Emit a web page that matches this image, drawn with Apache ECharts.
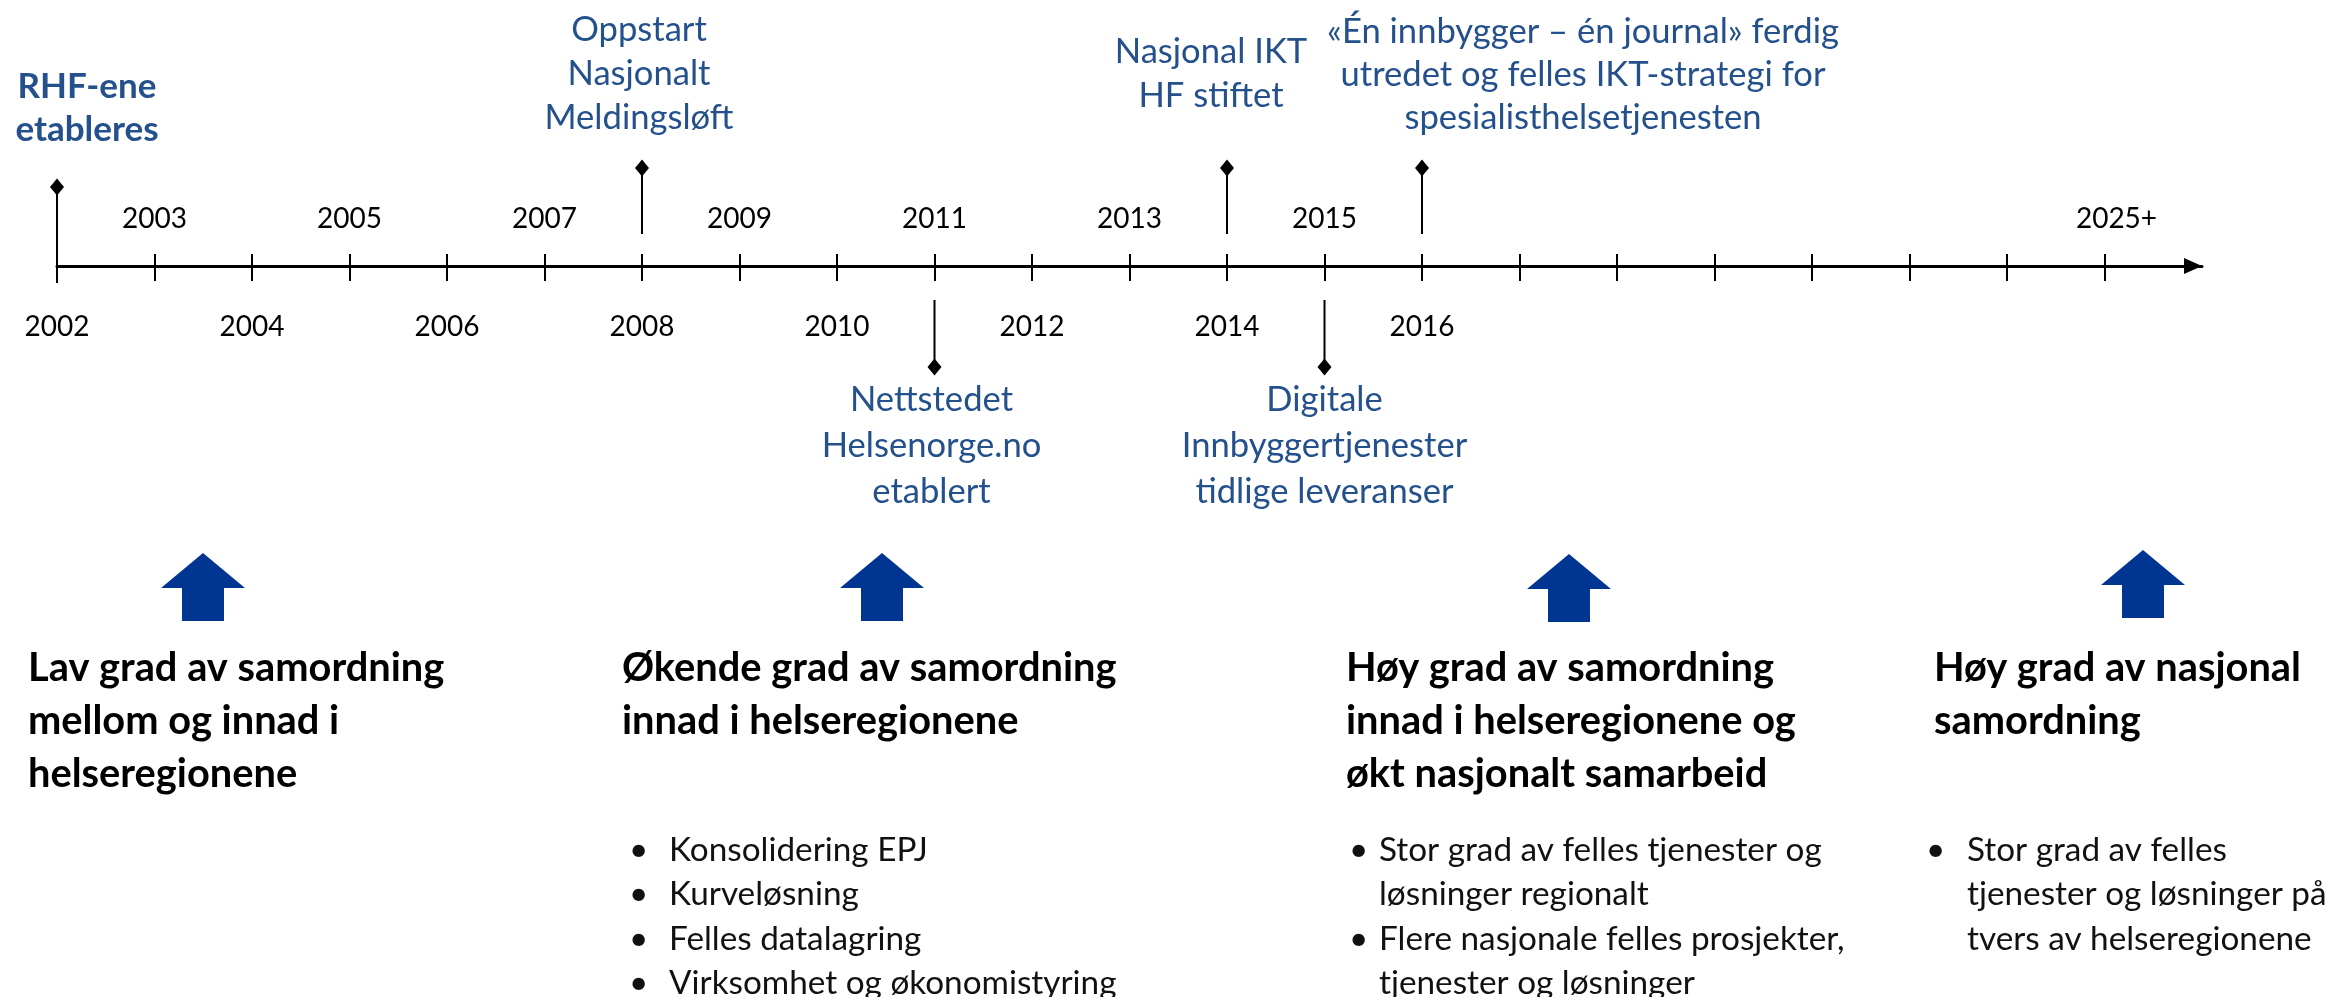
<!DOCTYPE html>
<html>
<head>
<meta charset="utf-8">
<script src="https://cdn.jsdelivr.net/npm/echarts@6/dist/echarts.min.js"></script>
<style>html,body{margin:0;padding:0;background:#fff}#chart{width:2347px;height:997px}</style>
</head>
<body>
<div id="chart"></div>
<script>
// ---------- data ----------
const axisMin = 2002;
const axisMax = 2024;
const tickYears = [2002,2003,2004,2005,2006,2007,2008,2009,2010,2011,2012,2013,2014,2015,2016,2017,2018,2019,2020,2021,2022,2023];
const labelYearsBelow = [2002,2004,2006,2008,2010,2012,2014,2016];
const tickLabelsBelow = ['2002','2004','2006','2008','2010','2012','2014','2016'];
const labelYearsAbove = [2003,2005,2007,2009,2011,2013,2015,2023];
const tickLabelsAbove = ['2003','2005','2007','2009','2011','2013','2015','2025+'];

const eventYears = [2002, 2008, 2011, 2014, 2015, 2016];
const eventSides = ['up', 'up', 'down', 'up', 'down', 'up'];
const eventTexts = [
  'RHF-ene\netableres',
  'Oppstart\nNasjonalt\nMeldingsløft',
  'Nettstedet\nHelsenorge.no\netablert',
  'Nasjonal IKT\nHF stiftet',
  'Digitale\nInnbyggertjenester\ntidlige leveranser',
  '«Én innbygger – én journal» ferdig\nutredet og felles IKT-strategi for\nspesialisthelsetjenesten'
];
const eventBold = [true, false, false, false, false, false];

const phaseTitles = [
  ['Lav grad av samordning', 'mellom og innad i', 'helseregionene'],
  ['Økende grad av samordning', 'innad i helseregionene'],
  ['Høy grad av samordning', 'innad i helseregionene og', 'økt nasjonalt samarbeid'],
  ['Høy grad av nasjonal', 'samordning']
];
const phaseBullets = [
  [],
  [['Konsolidering EPJ'], ['Kurveløsning'], ['Felles datalagring'], ['Virksomhet og økonomistyring']],
  [['Stor grad av felles tjenester og', 'løsninger regionalt'], ['Flere nasjonale felles prosjekter,', 'tjenester og løsninger']],
  [['Stor grad av felles', 'tjenester og løsninger på', 'tvers av helseregionene']]
];

// ---------- layout / style ----------
const FONT = 'Lato, "Open Sans", sans-serif';
const BLUE_TEXT = '#24508c';
const ARROW_BLUE = '#003591';
function fitSize(text, weight, target) {
  const ctx = document.createElement('canvas').getContext('2d');
  ctx.font = weight + ' 100px Lato';
  return Math.round(100 * target / ctx.measureText(text).width * 10) / 10;
}
const yearSize = fitSize('2003', 'normal', 65);
const eventSize = fitSize('Innbyggertjenester', 'normal', 286);
const eventBoldSize = fitSize('etableres', 'bold', 143);
const headSize = fitSize('Økende grad av samordning', 'bold', 494);
const bulletSize = fitSize('Konsolidering EPJ', 'normal', 259);

// stem [start, end(diamond)] relative to axis line, label first-line center offset & x shift
const stemLayout = [[17, -79], [-32, -98], [34, 101], [-32, -98], [34, 101], [-32, -98]];
const labelDY = [-179, -236, 134, -214, 134, -234];
const labelDX = [30, -3, -3, -16, 0, 161];
const labelLH = [43, 44, 46, 44, 46, 43];

const phaseX = [28, 622, 1346, 1934];
const bulletDotX = [0, 629, 1349, 1926];
const bulletTextX = [0, 669, 1379, 1967];
const arrowX = [203, 882, 1569, 2143];
const arrowTop = [553, 553, 554, 550];
const headTop = 642, headLH = 53;
const bulletTop = 828, bulletLH = 44.5;

const chart = echarts.init(document.getElementById('chart'), null, {renderer: 'canvas'});

const graphics = [];
phaseTitles.forEach((lines, i) => {
  const cx = arrowX[i], t = arrowTop[i];
  graphics.push({
    type: 'polygon',
    shape: {points: [[cx, t], [cx + 42, t + 35], [cx + 21, t + 35], [cx + 21, t + 68], [cx - 21, t + 68], [cx - 21, t + 35], [cx - 42, t + 35]]},
    style: {fill: ARROW_BLUE}
  });
  graphics.push({
    type: 'text', x: phaseX[i], y: headTop,
    style: {text: lines.join('\n'), fontFamily: FONT, fontSize: headSize, fontWeight: 'bold', fill: '#000',
      lineHeight: headLH, align: 'left', verticalAlign: 'top'}
  });
  let row = 0;
  phaseBullets[i].forEach(item => {
    graphics.push({
      type: 'text', x: bulletDotX[i], y: bulletTop + row * bulletLH,
      style: {text: '•', fontFamily: FONT, fontSize: bulletSize, fill: '#111', lineHeight: bulletLH, align: 'left', verticalAlign: 'top'}
    });
    graphics.push({
      type: 'text', x: bulletTextX[i], y: bulletTop + row * bulletLH,
      style: {text: item.join('\n'), fontFamily: FONT, fontSize: bulletSize, fill: '#111', lineHeight: bulletLH, align: 'left', verticalAlign: 'top'}
    });
    row += item.length;
  });
});

const baseAxis = {
  type: 'value', min: axisMin, max: axisMax, interval: 1, gridIndex: 0, position: 'bottom',
  splitLine: {show: false}
};

chart.setOption({
  backgroundColor: '#fff',
  animation: false,
  grid: {left: 57, right: 145, top: 0, bottom: 731, containLabel: false},
  xAxis: [
    Object.assign({}, baseAxis, {
      axisLine: {show: true, symbol: ['none', 'triangle'], symbolSize: [16, 18], symbolOffset: [0, -9],
        lineStyle: {color: '#000', width: 3}},
      axisTick: {show: true, inside: false, length: 15, customValues: tickYears, lineStyle: {color: '#000', width: 2}},
      axisLabel: {show: true, customValues: labelYearsBelow, margin: 47, color: '#000', fontFamily: FONT, fontSize: yearSize,
        formatter: v => tickLabelsBelow[labelYearsBelow.indexOf(v)] || ''}
    }),
    Object.assign({}, baseAxis, {
      axisLine: {show: false},
      axisTick: {show: true, inside: true, length: 12, customValues: tickYears, lineStyle: {color: '#000', width: 2}},
      axisLabel: {show: true, inside: true, customValues: labelYearsAbove, margin: 33, color: '#000', fontFamily: FONT, fontSize: yearSize,
        formatter: v => {
          const s = tickLabelsAbove[labelYearsAbove.indexOf(v)] || '';
          return s.indexOf('+') >= 0 ? '{p|' + s + '}' : s;
        },
        rich: {p: {padding: [0, 0, 0, 24], color: '#000', fontFamily: FONT, fontSize: yearSize}}}
    })
  ],
  yAxis: {type: 'value', min: 0, max: 1, show: false},
  graphic: graphics,
  series: [{
    type: 'custom',
    clip: false,
    silent: true,
    data: eventYears.map(y => [y, 0]),
    renderItem: function (params, api) {
      const i = params.dataIndex;
      const p = api.coord([api.value(0), 0]);
      const x = p[0], y0 = p[1];
      const s = stemLayout[i];
      const dy = y0 + s[1];
      return {
        type: 'group',
        children: [
          {type: 'line', shape: {x1: x, y1: y0 + s[0], x2: x, y2: dy}, style: {stroke: '#000', lineWidth: 2}},
          {type: 'polygon', shape: {points: [[x, dy - 8.5], [x + 7, dy], [x, dy + 8.5], [x - 7, dy]]}, style: {fill: '#000'}},
          {type: 'text', style: {
            text: eventTexts[i], x: x + labelDX[i], y: y0 + labelDY[i] - labelLH[i] / 2,
            fill: BLUE_TEXT, fontFamily: FONT, fontSize: eventBold[i] ? eventBoldSize : eventSize,
            fontWeight: eventBold[i] ? 'bold' : 'normal', lineHeight: labelLH[i], align: 'center', verticalAlign: 'top'
          }}
        ]
      };
    }
  }]
});
</script>
</body>
</html>
